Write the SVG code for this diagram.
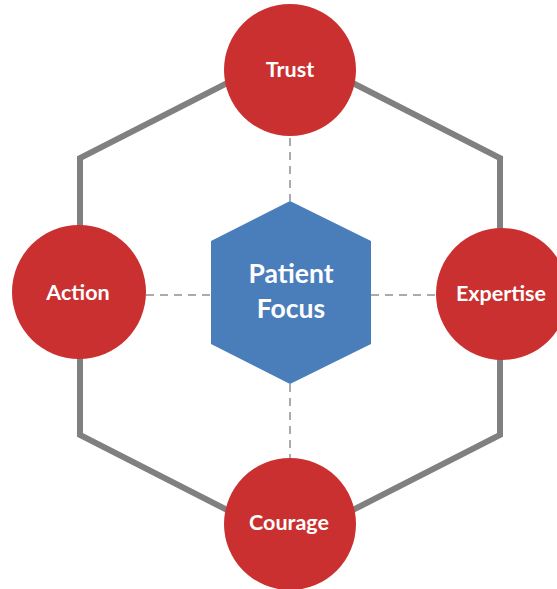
<svg xmlns="http://www.w3.org/2000/svg" width="557" height="589" viewBox="0 0 557 589">
  <style>
    .frame { fill: none; stroke: #808080; stroke-width: 6; stroke-linejoin: miter; }
    .dash { stroke: #ababab; stroke-width: 2; stroke-dasharray: 8 6; fill: none; }
    .value { fill: #c9302f; }
    .core { fill: #4a7ebb; }
    .label { fill: #ffffff; font-family: Lato, "Open Sans", "Liberation Sans", sans-serif; font-weight: bold; text-anchor: middle; }
    .small { font-size: 21.5px; }
    .big { font-size: 26.5px; }
  </style>
  <rect width="557" height="589" fill="#ffffff"/>

  <!-- outer hexagonal frame -->
  <polygon class="frame" points="290,51 500,158 500,435 290,542 80,435 80,158"/>

  <!-- dashed spokes from the centre -->
  <g id="connectors">
    <line class="dash" x1="290" y1="138" x2="290" y2="201"/>
    <line class="dash" x1="290" y1="384" x2="290" y2="458"/>
    <line class="dash" x1="146" y1="295" x2="211" y2="295"/>
    <line class="dash" x1="371" y1="295" x2="436" y2="295"/>
  </g>

  <g id="patient-focus">
    <polygon class="core" points="290,201 371,241 371,344 290,384 211,344 211,241"/>
    <text class="label big" x="291" y="283">Patient</text>
    <text class="label big" x="291" y="318">Focus</text>
  </g>

  <g id="trust">
    <circle class="value" cx="290" cy="70" r="66"/>
    <text class="label small" x="290" y="77">Trust</text>
  </g>

  <g id="action">
    <circle class="value" cx="79" cy="292" r="67"/>
    <text class="label small" x="78" y="300">Action</text>
  </g>

  <g id="expertise">
    <circle class="value" cx="502" cy="294" r="66"/>
    <text class="label small" x="501" y="301">Expertise</text>
  </g>

  <g id="courage">
    <circle class="value" cx="290" cy="524" r="66"/>
    <text class="label small" x="289" y="530">Courage</text>
  </g>
</svg>
